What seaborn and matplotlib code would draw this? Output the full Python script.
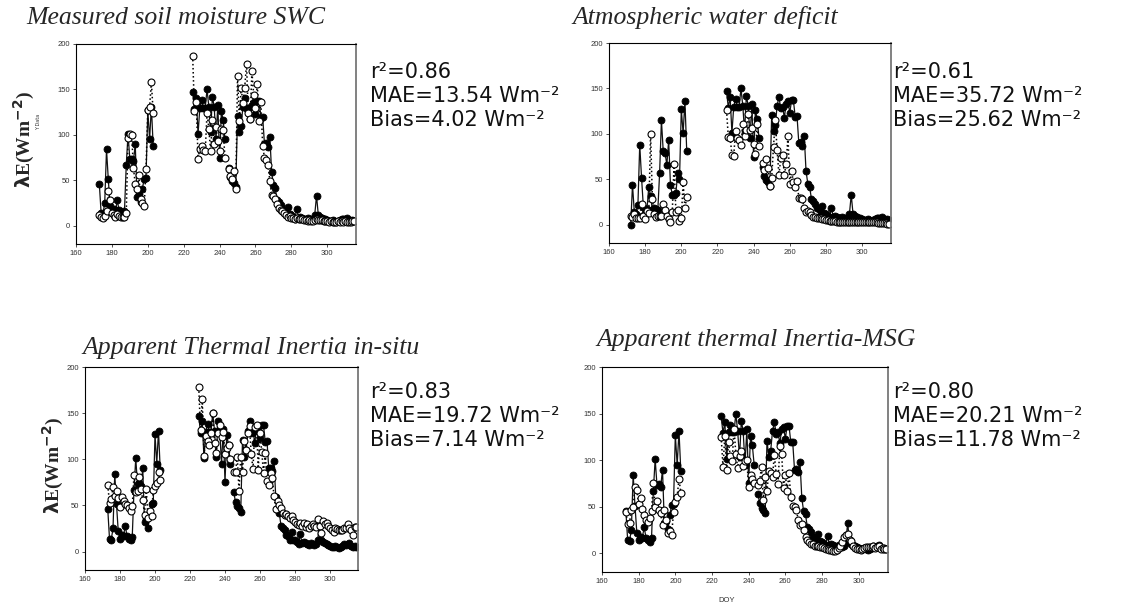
"""
Observed vs modelled latent heat flux (lambda E) for four soil-moisture proxies.
Filled circles = measured, open circles = model.
"""
import numpy as np
import pandas as pd
import matplotlib
matplotlib.use("Agg")
import matplotlib.pyplot as plt
import seaborn as sns

# ---- day of year: three runs (gap 204-224, missing 244) ----
DOY_A = list(range(172, 204))
DOY_B = list(range(225, 244))
DOY_C = list(range(245, 316))

# measured lambda E (panels 1, 3, 4)
obs_a = [np.nan, 46, 14, 13, 25, 84, 51, 22, 14, 18, 17, 28, 17, 14, 12, 16,
         67, 101, 73, 74, 71, 90, 32, 35, 26, 41, 52, 53, 127, 95, 131, 88]
obs_b = [147, 129, 141, 101, 130, 138, 130, 130, 150, 131, 103, 142, 131, 95,
         133, 75, 126, 116, 95]
obs_c = [64, 54, 49, 47, 43, 121, 103, 110, 131, 141,
         128, 130, 118, 133, 136, 123, 137, 137, 119, 120,
         90, 91, 87, 98, 59, 45, 42, 28, 26, 23,
         18, 17, 12, 21, 13, 12, 10, 8, 19, 9,
         10, 9, 8, 7, 9, 8, 7, 8, 12, 33,
         12, 10, 9, 8, 7, 6, 5, 5, 6, 5,
         4, 5, 6, 8, 7, 8, 9, 6, 5, 6, 5]
# measured, first run as drawn in the VPD panel
obs_vpd_a = [0, 44, 14, 12, 22, 88, 52, 20, 13, 17, 42, 32, 16, 19, 17, 16,
             57, 115, 81, 79, 66, 93, 44, 33, 33, 35, 57, 50, 127, 101, 136, 81]

# model: measured soil moisture SWC
swc_a = [np.nan, 12, 10, 9, 11, 16, 38, 28, 14, 12, 10, 13, 11, 10, 10, 10,
         14, 97, 101, 100, 64, 46, 40, 56, 29, 25, 22, 62, 127, 131, 158, 124]
swc_b = [187, 126, 136, 74, 85, 88, 83, 82, 124, 107, 82, 116, 90, 109, 93,
         82, 107, 105, 75]
swc_c = [62, 55, 52, 60, 40, 165, 115, 152, 135, 152,
         178, 124, 117, 170, 144, 130, 156, 115, 136, 88,
         75, 72, 67, 49, 34, 33, 29, 24, 20, 17,
         16, 14, 12, 10, 11, 9, 9, 8, 9, 8,
         7, 7, 6, 6, 5, 6, 5, 5, 6, 7,
         6, 6, 6, 5, 5, 5, 4, 5, 4, 4,
         4, 5, 4, 5, 4, 5, 4, 4, 4, 5, 5]

# model: atmospheric water deficit
vpd_a = [10, 9, 12, 8, 7, 8, 23, 10, 6, 15, 13, 100, 28, 12, 9, 10,
         10, 10, 23, 16, 10, 6, 3, 14, 67, 14, 16, 4, 7, 47, 18, 31]
vpd_b = [126, 97, 96, 77, 76, 103, 96, 93, 88, 111, 98, 104, 122, 104, 107,
         89, 78, 111, 87]
vpd_c = [68, 60, 72, 63, 43, 52, 86, 115, 82, 55,
         73, 77, 55, 67, 98, 45, 59, 47, 42, 48,
         30, 29, 28, 18, 14, 15, 14, 11, 9, 9,
         8, 7, 7, 6, 6, 5, 5, 4, 4, 4,
         4, 3, 3, 3, 3, 3, 3, 3, 3, 3,
         3, 3, 3, 3, 3, 3, 3, 3, 3, 3,
         3, 3, 3, 3, 2, 2, 2, 2, 2, 1, 1]

# model: apparent thermal inertia in-situ
ati_a = [np.nan, 72, 53, 57, 70, 60, 66, 58, 48, 59, 55, 51, 50, 47, 44, 49,
         83, 64, 66, 81, 68, 56, 40, 68, 36, 44, 38, 67, 71, 74, 86, 77]
ati_b = [178, 132, 165, 104, 125, 120, 115, 128, 150, 118, 107, 128, 137, 124,
         130, 106, 112, 116, 100]
ati_c = [86, 86, 103, 66, 103, 86, 120, 110, 128, 136,
         106, 89, 135, 137, 88, 129, 108, 85, 107, 76,
         72, 85, 80, 60, 46, 55, 50, 47, 42, 40,
         41, 38, 36, 38, 34, 32, 30, 29, 31, 28,
         31, 27, 30, 26, 28, 30, 28, 27, 35, 28,
         20, 33, 30, 31, 28, 25, 23, 21, 25, 24,
         23, 23, 23, 25, 26, 30, 25, 23, 18, 27, 27]

# model: apparent thermal inertia MSG
msg_a = [np.nan, 44, 32, 33, 47, 50, 71, 68, 53, 59, 48, 41, 36, 34, 38, 45,
         75, 50, 56, 47, 43, 30, 47, 36, 22, 24, 20, 44, 55, 61, 80, 65]
msg_b = [125, 93, 126, 90, 119, 104, 99, 134, 107, 92, 104, 110, 94, 99, 100,
         71, 84, 80, 76]
msg_c = [73, 78, 93, 57, 82, 67, 88, 86, 82, 106,
         85, 74, 115, 107, 70, 84, 67, 86, 60, 51,
         50, 47, 36, 30, 32, 25, 18, 14, 12, 10,
         10, 8, 8, 8, 7, 7, 6, 5, 5, 4,
         4, 3, 3, 4, 6, 8, 12, 18, 20, 21,
         14, 13, 8, 6, 5, 5, 4, 5, 6, 7,
         7, 7, 7, 8, 6, 7, 8, 5, 6, 5, 5]

TITLES = ["Measured soil moisture SWC", "Atmospheric water deficit",
          "Apparent Thermal Inertia in-situ", "Apparent thermal Inertia-MSG"]
R2   = ["0.86", "0.61", "0.83", "0.80"]
MAE  = ["13.54", "35.72", "19.72", "20.21"]
BIAS = ["4.02", "25.62", "7.14", "11.78"]


def make_frame(obs, mod):
    return pd.DataFrame({
        "doy": DOY_A + DOY_B + DOY_C,
        "seg": [0] * len(DOY_A) + [1] * len(DOY_B) + [2] * len(DOY_C),
        "obs": obs[0] + obs[1] + obs[2],
        "mod": mod[0] + mod[1] + mod[2],
    })


panels = [
    make_frame((obs_a, obs_b, obs_c), (swc_a, swc_b, swc_c)),
    make_frame((obs_vpd_a, obs_b, obs_c), (vpd_a, vpd_b, vpd_c)),
    make_frame((obs_a, obs_b, obs_c), (ati_a, ati_b, ati_c)),
    make_frame((obs_a, obs_b, obs_c), (msg_a, msg_b, msg_c)),
]

sns.set_theme(style="white")
plt.rcParams["font.family"] = ["DejaVu Sans"]

W, H = 1124, 608
fig = plt.figure(figsize=(W / 100, H / 100), dpi=100)

# axes boxes in pixels: left, top, right, bottom
BOXES = [(76, 44, 356, 244), (609, 43, 891, 243),
         (85, 367, 358, 570), (602, 367, 888, 572)]
# title (x, baseline) and stats text x / first baseline
TITLE_POS = [(26, 24), (572, 24), (82, 354), (596, 346)]
STAT_POS = [(370, 78), (893, 78), (370, 398), (893, 398)]

for i, df in enumerate(panels):
    l, t, r, b = BOXES[i]
    ax = fig.add_axes([l / W, 1 - b / H, (r - l) / W, (b - t) / H])

    d = df.dropna(subset=["obs"])
    sns.lineplot(data=d, x="doy", y="obs", units="seg", estimator=None,
                 color="#111111", lw=0.9, marker="o", markersize=5,
                 markerfacecolor="black", markeredgecolor="black",
                 markeredgewidth=0.6, ax=ax)
    d = df.dropna(subset=["mod"])
    sns.lineplot(data=d, x="doy", y="mod", units="seg", estimator=None,
                 color="black", lw=1.1, linestyle=":", marker="o",
                 markersize=5, markerfacecolor="white",
                 markeredgecolor="black", markeredgewidth=0.8, ax=ax)

    ax.set_xlim(160, 316)
    ax.set_ylim(-20, 200)
    ax.set_xticks(range(160, 301, 20))
    ax.set_yticks(range(0, 201, 50))
    ax.set_xlabel("")
    ax.set_ylabel("")
    ax.tick_params(direction="out", length=2.5, width=0.6, pad=2,
                   labelsize=5.5, labelcolor="#333333", colors="#333333",
                   bottom=True, left=True)
    for lab in ax.get_xticklabels() + ax.get_yticklabels():
        lab.set_fontfamily("Liberation Sans")
    for side in ["left", "bottom", "top"]:
        ax.spines[side].set_color("black")
        ax.spines[side].set_linewidth(0.8)
    ax.spines["right"].set_color("#777777")
    ax.spines["right"].set_linewidth(1.3)

    tx, ty = TITLE_POS[i]
    fig.text(tx / W, 1 - ty / H, TITLES[i], family="Liberation Serif",
             style="italic", fontsize=18.5, ha="left", va="baseline")

    sx, sy = STAT_POS[i]
    lines = ["r\u00b2=" + R2[i],
             "MAE=" + MAE[i] + " Wm\u207b\u00b2",
             "Bias=" + BIAS[i] + " Wm\u207b\u00b2"]
    for k, s in enumerate(lines):
        fig.text(sx / W, 1 - (sy + 24 * k) / H, s, fontsize=15,
                 ha="left", va="baseline", color="#111111")

# y labels
fig.text(24 / W, 1 - 139 / H, r"$\mathbf{\lambda}$E(Wm$^{\mathbf{-2}}$)",
         family="Liberation Serif", fontweight="bold", fontsize=14,
         rotation=90, ha="center", va="center")
fig.text(39 / W, 1 - 122 / H, "Y Data", fontsize=3.5, rotation=90,
         ha="center", va="center", color="#333333")
fig.text(53 / W, 1 - 465 / H, r"$\mathbf{\lambda}$E(Wm$^{\mathbf{-2}}$)",
         family="Liberation Serif", fontweight="bold", fontsize=14,
         rotation=90, ha="center", va="center",
         bbox=dict(facecolor="white", edgecolor="none", pad=2))
fig.text(727 / W, 1 - 601 / H, "DOY", family="Liberation Sans",
         fontsize=5.5, ha="center", va="center", color="#333333")

fig.savefig("out.png", dpi=100)
